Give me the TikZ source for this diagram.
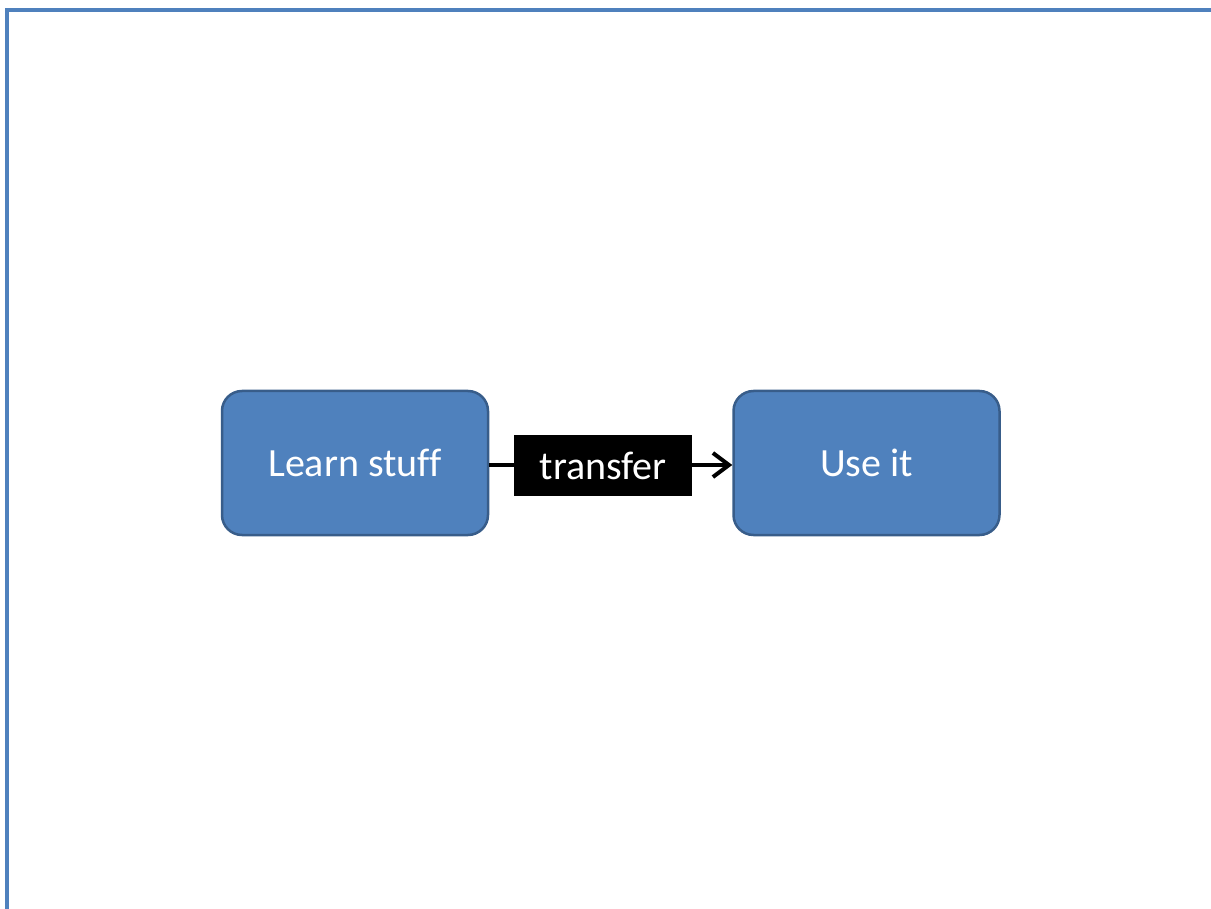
\documentclass[tikz,border=0pt]{standalone}
\usepackage{fontspec}
\setmainfont{Carlito}[Ligatures=NoCommon]
\usetikzlibrary{arrows.meta}
\definecolor{boxfill}{RGB}{79,129,189}
\definecolor{boxline}{RGB}{56,93,138}
\definecolor{frameblue}{RGB}{79,129,189}
\tikzset{
  stage/.style={draw=boxline, line width=2.5pt, fill=boxfill, rounded corners=20pt,
    minimum width=266pt, minimum height=144pt, text=white, inner sep=0pt,
    font=\fontsize{40}{46}\selectfont},
  tag/.style={fill=black, text=white, minimum width=178pt, minimum height=61pt,
    inner sep=0pt, font=\fontsize{40}{46}\selectfont},
  flow/.style={line width=4pt, -{Straight Barb[length=16pt, width=24pt, line width=4pt]}}
}
\begin{document}
\begin{tikzpicture}[x=1pt, y=-1pt]
  \useasboundingbox (0,0) rectangle (1211,909);
  % page frame
  \draw[frameblue, line width=3.5pt] (7,909) -- (7,10) -- (1211,10);
  % stages
  \node[stage] (learn) at (355,463) {Learn stuff};
  \node[stage] (use) at (866.5,463) {Use it};
  % connector with its label
  \draw[flow] (learn.east |- 0,465) -- node[tag, pos=0.469, yshift=-0.5pt] (transfer) {transfer} (use.west |- 0,465);
\end{tikzpicture}
\end{document}
